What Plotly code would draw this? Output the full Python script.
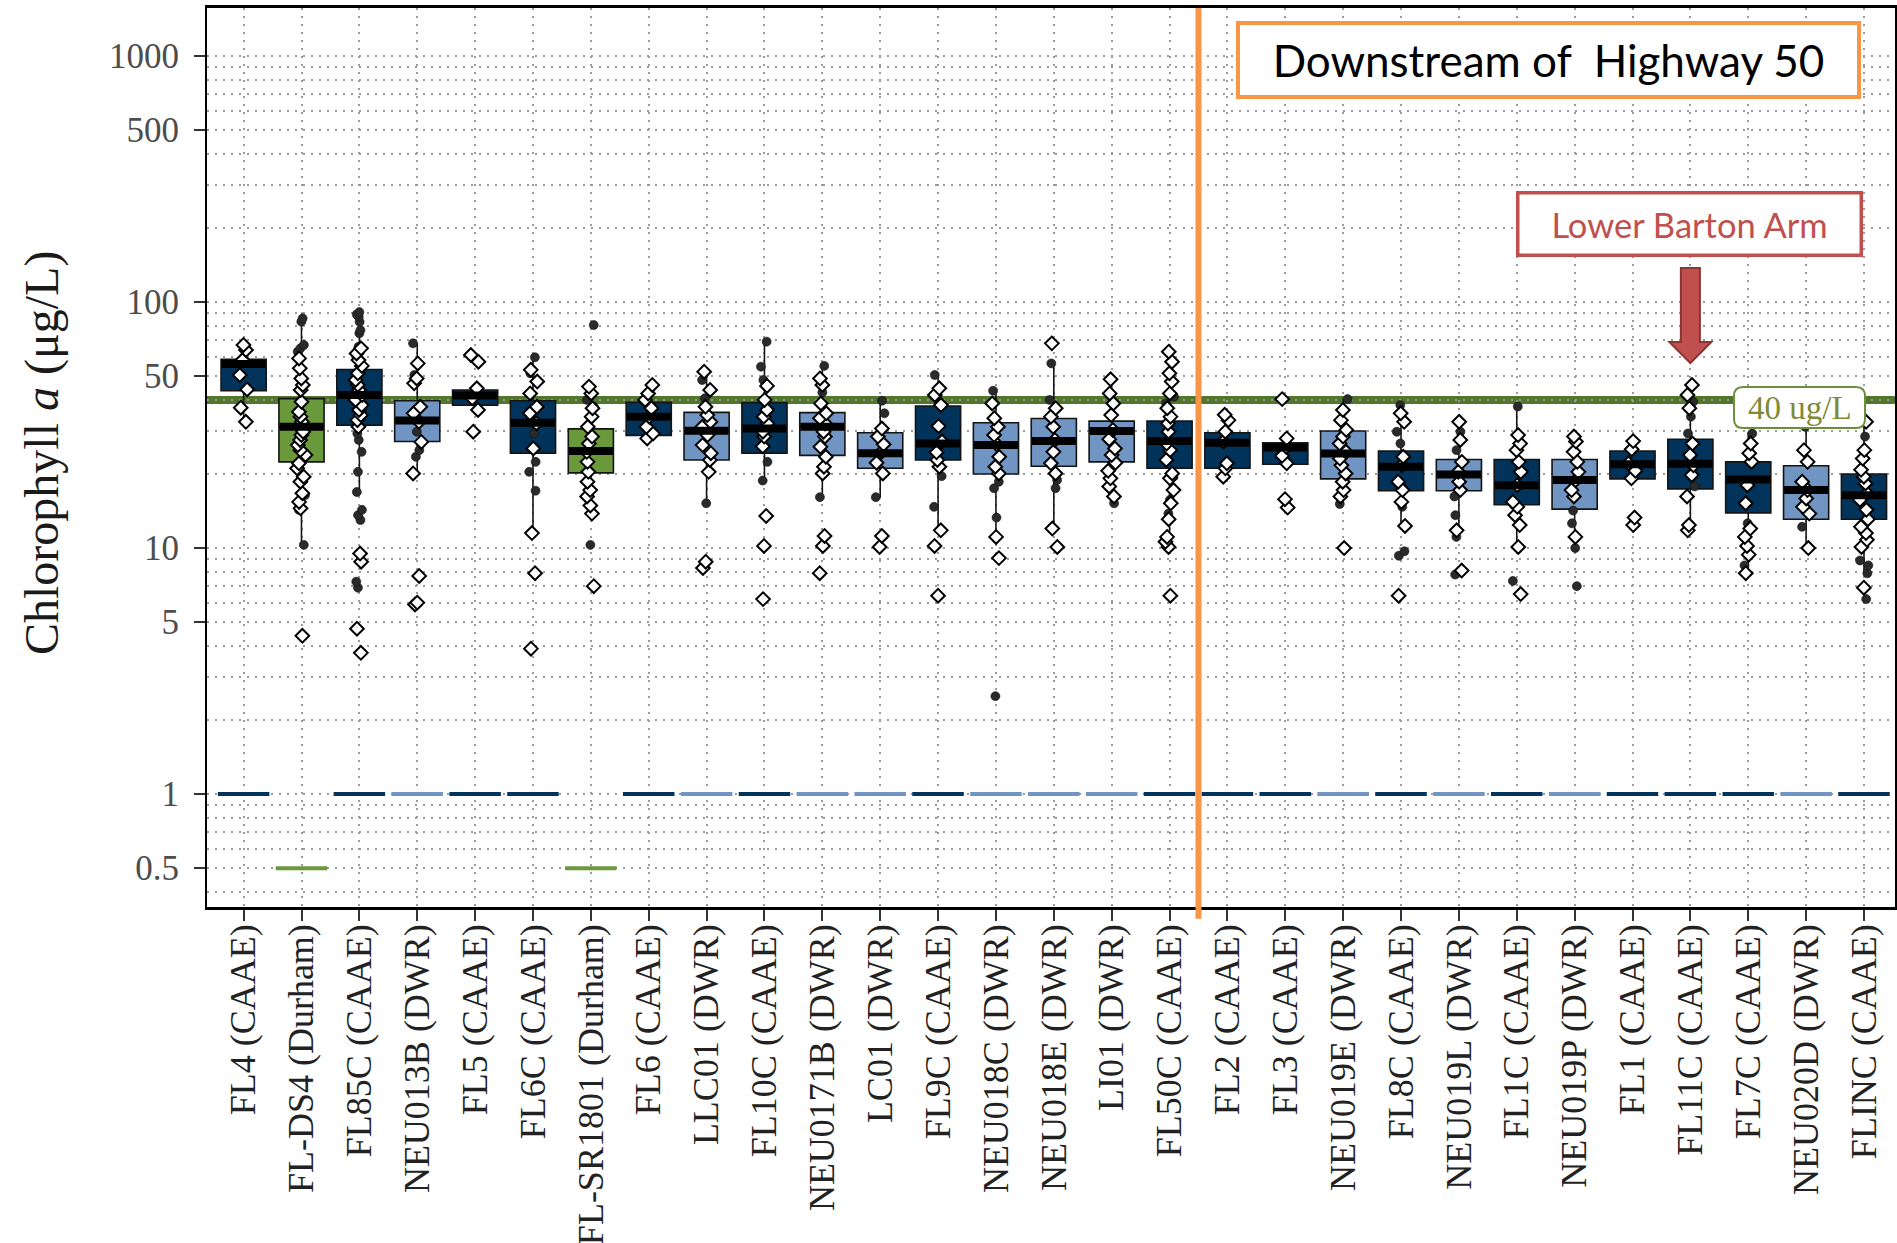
import plotly.graph_objects as go

# ---- stations (left to right) and sampling agency ----
stations = [
    "FL4 (CAAE)", "FL-DS4 (Durham)", "FL85C (CAAE)", "NEU013B (DWR)", "FL5 (CAAE)",
    "FL6C (CAAE)", "FL-SR1801 (Durham)", "FL6 (CAAE)", "LLC01 (DWR)", "FL10C (CAAE)",
    "NEU0171B (DWR)", "LC01 (DWR)", "FL9C (CAAE)", "NEU018C (DWR)", "NEU018E (DWR)",
    "LI01 (DWR)", "FL50C (CAAE)", "FL2 (CAAE)", "FL3 (CAAE)", "NEU019E (DWR)",
    "FL8C (CAAE)", "NEU019L (DWR)", "FL1C (CAAE)", "NEU019P (DWR)", "FL1 (CAAE)",
    "FL11C (CAAE)", "FL7C (CAAE)", "NEU020D (DWR)", "FLINC (CAAE)",
]
agency = [
    "CAAE", "Durham", "CAAE", "DWR", "CAAE", "CAAE", "Durham", "CAAE", "DWR", "CAAE",
    "DWR", "DWR", "CAAE", "DWR", "DWR", "DWR", "CAAE", "CAAE", "CAAE", "DWR",
    "CAAE", "DWR", "CAAE", "DWR", "CAAE", "CAAE", "CAAE", "DWR", "CAAE",
]

# ---- box statistics, chlorophyll a (ug/L) ----
q1 = [43.6, 22.4, 31.6, 27.1, 38.1, 24.3, 20.2, 28.7, 22.8, 24.3, 23.8, 21.1, 22.8, 20.0, 21.5,
      22.4, 21.1, 21.1, 21.9, 19.1, 17.1, 17.1, 15.0, 14.4, 19.1, 17.4, 13.9, 13.1, 13.1]
median = [56.0, 31.1, 41.9, 33.0, 41.7, 32.3, 24.8, 34.2, 30.0, 30.6, 31.1, 24.3, 26.6, 26.2, 27.2,
          29.9, 27.2, 26.8, 25.6, 24.2, 21.4, 19.9, 18.0, 18.9, 21.9, 22.0, 19.0, 17.2, 16.4]
q3 = [58.5, 40.5, 53.2, 39.7, 43.9, 39.7, 30.5, 39.1, 35.6, 39.0, 35.5, 29.4, 37.8, 32.3, 33.6,
      32.8, 32.8, 29.4, 26.8, 29.9, 24.8, 22.9, 22.9, 22.9, 24.8, 27.7, 22.4, 21.6, 20.0]
whisker_lo = [32.6, 10.3, 16.9, 20.1, 36.4, 11.5, 13.8, 27.9, 15.2, 18.8, 16.1, 16.1, 11.8, 11.1, 12.0,
              15.2, 10.1, 19.5, 21.9, 15.1, 12.3, 11.1, 10.1, 10.0, 19.1, 11.8, 7.9, 10.0, 7.9]
whisker_hi = [66.9, 85.8, 91.0, 67.9, 44.6, 59.6, 45.3, 46.0, 52.1, 69.0, 55.0, 39.7, 50.5, 43.6, 56.3,
              48.5, 62.8, 34.8, 27.9, 40.3, 38.1, 32.6, 37.6, 28.4, 27.2, 46.0, 29.2, 31.1, 37.0]

# ---- reporting limit drawn as a dash under each station ----
reporting_limit = [1, 0.5, 1, 1, 1, 1, 0.5, 1, 1, 1, 1, 1, 1, 1, 1,
                   1, 1, 1, 1, 1, 1, 1, 1, 1, 1, 1, 1, 1, 1]

# ---- individual samples: open diamonds and filled dots ----
open_samples = [
    [66.9, 63.8, 58.1, 50.5, 44.1, 37.2, 32.6],
    [59.0, 53.8, 48.9, 46.0, 43.9, 39.3, 35.8, 34.2, 32.6, 29.7, 28.8, 27.5, 26.2, 25.0, 23.9, 22.1,
     21.1, 19.5, 18.6, 16.7, 15.4, 14.5, 4.4],
    [64.8, 61.8, 58.1, 55.0, 51.3, 48.2, 46.0, 43.9, 41.9, 40.0, 38.1, 36.4, 34.7, 33.1, 31.1, 9.5,
     8.8, 4.7, 3.75],
    [56.3, 48.9, 46.7, 37.5, 35.3, 32.6, 27.0, 20.1, 7.7, 6.0, 5.9],
    [60.9, 57.2, 44.6, 40.6, 36.4, 29.7],
    [53.0, 47.5, 42.5, 37.5, 35.3, 32.1, 25.4, 11.5, 7.9, 3.9],
    [45.3, 42.5, 37.0, 34.2, 31.1, 28.4, 26.6, 24.6, 22.4, 20.4, 18.6, 17.2, 16.2, 14.9, 13.8, 7.0],
    [46.0, 42.5, 40.0, 37.0, 34.2, 31.1, 29.2, 27.9],
    [52.1, 43.9, 37.5, 34.7, 32.6, 31.1, 28.8, 26.2, 24.3, 22.8, 20.4, 8.8, 8.3],
    [45.6, 40.0, 36.4, 34.2, 32.1, 29.7, 28.4, 25.9, 13.5, 10.2, 6.2],
    [48.9, 46.0, 38.7, 35.3, 33.7, 32.1, 29.7, 28.4, 25.8, 23.5, 21.4, 20.1, 11.2, 10.2, 7.9],
    [30.6, 28.4, 26.4, 24.6, 22.2, 20.1, 11.2, 10.1],
    [44.6, 41.9, 38.1, 31.3, 27.1, 24.5, 22.8, 21.4, 11.8, 10.2, 6.4],
    [38.7, 33.7, 31.1, 28.8, 26.4, 23.5, 21.4, 20.1, 11.1, 9.1],
    [67.9, 37.0, 34.2, 31.1, 27.5, 24.6, 22.1, 20.1, 12.0, 10.1],
    [48.5, 42.5, 38.7, 34.7, 30.2, 27.7, 25.4, 23.9, 22.2, 20.6, 19.2, 17.8, 16.2],
    [62.8, 57.2, 51.3, 47.5, 42.5, 37.0, 34.2, 32.1, 29.7, 26.6, 25.0, 22.8, 20.1, 19.2, 17.2, 15.2,
     13.1, 11.1, 10.6, 10.1, 6.4],
    [34.8, 33.1, 29.7, 27.1, 22.1, 21.1, 19.5],
    [40.3, 27.9, 25.8, 23.7, 22.1, 15.8, 14.6],
    [36.4, 33.1, 30.2, 28.4, 26.6, 24.6, 23.1, 21.7, 20.1, 18.6, 17.2, 16.2, 10.0],
    [35.3, 32.6, 23.5, 21.7, 18.6, 17.2, 15.4, 12.3, 6.4],
    [32.6, 27.5, 22.4, 20.4, 18.6, 17.2, 11.8, 8.1],
    [28.8, 26.6, 25.0, 22.4, 20.4, 18.0, 15.4, 14.7, 13.6, 12.4, 10.1, 6.5],
    [28.4, 27.1, 24.6, 22.4, 20.4, 18.9, 17.2, 16.2, 11.1],
    [27.2, 25.2, 22.1, 20.6, 19.2, 13.3, 12.4],
    [46.0, 41.9, 37.0, 26.6, 23.9, 21.7, 19.8, 16.2, 12.4, 11.8],
    [26.6, 24.3, 22.4, 18.0, 15.2, 12.0, 11.1, 10.2, 9.4, 7.9],
    [25.0, 22.4, 18.6, 17.2, 15.9, 14.7, 13.8, 10.0],
    [32.6, 25.0, 23.1, 20.8, 19.5, 18.3, 16.7, 15.7, 14.3, 13.1, 12.2, 11.5, 10.8, 10.1, 6.9],
]
filled_samples = [
    [],
    [85.8, 83.2, 66.9, 64.8, 62.8, 16.4, 14.3, 10.3],
    [91.0, 89.0, 87.0, 83.0, 76.9, 74.6, 65.8, 29.2, 27.5, 24.6, 20.4, 16.9, 14.3, 13.6, 13.0, 7.3, 6.9],
    [67.9, 50.5, 29.7, 25.0, 23.5],
    [],
    [59.6, 51.3, 33.7, 29.2, 22.4, 20.4, 17.1],
    [80.6, 40.0, 37.5, 10.3],
    [],
    [48.2, 40.6, 15.2],
    [69.0, 54.6, 48.2, 22.4, 18.8],
    [55.0, 42.9, 16.1],
    [39.7, 35.3, 16.1],
    [50.5, 19.6, 14.7],
    [43.6, 18.6, 17.5, 13.3, 2.5],
    [56.3, 40.0, 18.9, 17.5],
    [15.2],
    [41.2, 38.7, 19.5, 15.7, 13.8],
    [],
    [],
    [40.3, 15.1],
    [38.1, 29.7, 26.6, 14.7, 9.7, 9.3],
    [29.7, 25.0, 16.2, 13.6, 11.1, 7.8],
    [37.6, 7.35],
    [14.2, 12.6, 10.0, 7.0],
    [],
    [39.3, 34.2, 29.2, 17.8],
    [29.2, 12.6, 8.5],
    [31.1, 12.2],
    [37.0, 28.4, 8.9, 8.5, 7.9, 6.2],
]

threshold = 40
threshold_label = "40 ug/L"
divider_after = "FL50C (CAAE)"
highlighted = "FL11C (CAAE)"

y_tick_values = [0.5, 1, 5, 10, 50, 100, 500, 1000]
y_minor_values = [0.4, 0.6, 0.7, 0.8, 0.9, 2, 3, 4, 6, 7, 8, 9, 20, 30, 40, 60, 70, 80, 90,
                  200, 300, 400, 600, 700, 800, 900]

# ---- styling ----
FILL = {"CAAE": "#01335b", "DWR": "#7095c2", "Durham": "#6a993b"}
GRID = "#9a9a9a"
GRID_DASH = "2px,6px"
SERIF = "Liberation Serif"
BOX_W = 0.78
LIMIT_HALF = 0.445

W, H = 1897, 1243
ML, MR, MT, MB = 207, 2, 8, 336
PLOT_W, PLOT_H = W - ML - MR, H - MT - MB
X_RANGE = [-0.633, 28.536]


def paper_x(px):
    return (px - ML) / PLOT_W


def paper_y(py):
    return (H - MB - py) / PLOT_H


idx = list(range(len(stations)))
fig = go.Figure()

# boxes with whiskers, one trace per agency
for ag in ["CAAE", "DWR", "Durham"]:
    sel = [i for i in idx if agency[i] == ag]
    fig.add_trace(go.Box(
        x=sel,
        q1=[q1[i] for i in sel],
        median=[median[i] for i in sel],
        q3=[q3[i] for i in sel],
        lowerfence=[whisker_lo[i] for i in sel],
        upperfence=[whisker_hi[i] for i in sel],
        width=BOX_W, whiskerwidth=0, boxpoints=False,
        fillcolor=FILL[ag], line=dict(color="#141414", width=1.6),
        hoverinfo="skip", showlegend=False,
    ))

# thick median bars
mx, my = [], []
for i in idx:
    mx += [i - BOX_W / 2 + 0.01, i + BOX_W / 2 - 0.01, None]
    my += [median[i], median[i], None]
fig.add_trace(go.Scatter(x=mx, y=my, mode="lines", line=dict(color="black", width=8),
                         hoverinfo="skip", showlegend=False))

# reporting-limit dashes
for ag in ["CAAE", "DWR", "Durham"]:
    dx, dy = [], []
    for i in idx:
        if agency[i] == ag:
            dx += [i - LIMIT_HALF, i + LIMIT_HALF, None]
            dy += [reporting_limit[i], reporting_limit[i], None]
    fig.add_trace(go.Scatter(x=dx, y=dy, mode="lines", line=dict(color=FILL[ag], width=4),
                             hoverinfo="skip", showlegend=False))


# sample points (box traces used only for their jittered point layout)
def sample_trace(samples, marker):
    xs, ys = [], []
    for i, vals in enumerate(samples):
        xs += [i] * len(vals)
        ys += vals
    return go.Box(
        x=xs, y=ys, boxpoints="all", jitter=0.2, pointpos=0, width=BOX_W,
        fillcolor="rgba(0,0,0,0)", line=dict(color="rgba(0,0,0,0)", width=0),
        whiskerwidth=0, marker=marker, hoverinfo="y", showlegend=False,
    )


fig.add_trace(sample_trace(filled_samples,
                           dict(symbol="circle", size=9, color="#2a2a2a",
                                line=dict(color="#111111", width=0.6))))
fig.add_trace(sample_trace(open_samples,
                           dict(symbol="diamond", size=10.5, color="white",
                                line=dict(color="black", width=2))))

# ---- reference lines and call-outs ----
divider_x = stations.index(divider_after) + 0.5
arrow_x = stations.index(highlighted)
px_per_unit = PLOT_W / (X_RANGE[1] - X_RANGE[0])
shaft = 9.5 / px_per_unit
head = 21.0 / px_per_unit
y_top, y_neck, y_tip = paper_y(268), paper_y(342), paper_y(363)
arrow_path = (
    f"M {arrow_x - shaft},{y_top} L {arrow_x + shaft},{y_top} L {arrow_x + shaft},{y_neck} "
    f"L {arrow_x + head},{y_neck} L {arrow_x},{y_tip} L {arrow_x - head},{y_neck} "
    f"L {arrow_x - shaft},{y_neck} Z"
)


def rounded_rect(x0, y0, x1, y1, r):
    ax0, ax1 = paper_x(x0), paper_x(x1)
    ay0, ay1 = paper_y(y1), paper_y(y0)
    rx, ry = r / PLOT_W, r / PLOT_H
    return (
        f"M {ax0 + rx},{ay0} L {ax1 - rx},{ay0} Q {ax1},{ay0} {ax1},{ay0 + ry} "
        f"L {ax1},{ay1 - ry} Q {ax1},{ay1} {ax1 - rx},{ay1} L {ax0 + rx},{ay1} "
        f"Q {ax0},{ay1} {ax0},{ay1 - ry} L {ax0},{ay0 + ry} Q {ax0},{ay0} {ax0 + rx},{ay0} Z"
    )


shapes = [
    dict(type="line", xref="paper", x0=0, x1=1, yref="y", y0=threshold, y1=threshold,
         line=dict(color="#52762b", width=8), layer="between"),
    dict(type="line", xref="x", x0=divider_x, x1=divider_x, yref="paper", y0=-0.013, y1=1.0,
         line=dict(color="#f79646", width=6)),
    dict(type="path", xref="x", yref="paper", path=arrow_path,
         fillcolor="#c0504d", line=dict(color="#8c3431", width=2)),
    dict(type="path", xref="paper", yref="paper", path=rounded_rect(1734, 387, 1865, 428, 9),
         fillcolor="white", line=dict(color="#6b8f3a", width=2)),
]

annotations = [
    dict(text="Downstream of \u00a0Highway 50", xref="paper", yref="paper",
         x=paper_x(1548.5), y=paper_y(60), xanchor="center", yanchor="middle",
         width=617, height=70, showarrow=False, bgcolor="white",
         bordercolor="#f79646", borderwidth=4, borderpad=0,
         font=dict(family="Lato", size=44, color="black")),
    dict(text="Lower Barton Arm", xref="paper", yref="paper",
         x=paper_x(1689.5), y=paper_y(224), xanchor="center", yanchor="middle",
         width=340, height=59, showarrow=False, bgcolor="white",
         bordercolor="#c0504d", borderwidth=3.5, borderpad=0,
         font=dict(family="Lato", size=34.5, color="#c0504d")),
    dict(text=threshold_label, xref="paper", yref="paper",
         x=paper_x(1799.5), y=paper_y(408), xanchor="center", yanchor="middle",
         showarrow=False, font=dict(family=SERIF, size=33, color="#7e8a36")),
    dict(text="Chlorophyll <i>a</i> (μg/L)", xref="paper", yref="paper",
         x=paper_x(42), y=paper_y(453), xanchor="center", yanchor="middle",
         textangle=-90, showarrow=False,
         font=dict(family=SERIF, size=48, color="#1a1a1a")),
]

fig.update_layout(
    width=W, height=H, autosize=False,
    margin=dict(l=ML, r=MR, t=MT, b=MB, pad=0),
    paper_bgcolor="white", plot_bgcolor="white",
    boxmode="overlay", showlegend=False,
    shapes=shapes, annotations=annotations,
    xaxis=dict(
        range=X_RANGE, tickmode="array", tickvals=idx, ticktext=stations, automargin=False,
        tickangle=-90, ticks="outside", ticklen=11, tickwidth=2, tickcolor="#333333",
        ticklabelstandoff=-11,
        showgrid=True, gridcolor=GRID, griddash=GRID_DASH, gridwidth=1.5,
        showline=True, linecolor="black", linewidth=2.5, mirror=True, zeroline=False,
        tickfont=dict(family=SERIF, size=36, color="#222222"),
    ),
    yaxis=dict(
        type="log", range=[-0.459, 3.195], tickmode="array", tickvals=y_tick_values,
        ticktext=[f"{v:g}" for v in y_tick_values], automargin=False,
        ticks="outside", ticklen=11, tickwidth=2, tickcolor="#333333",
        ticklabelstandoff=8,
        showgrid=True, gridcolor=GRID, griddash=GRID_DASH, gridwidth=1.5,
        minor=dict(tickmode="array", tickvals=y_minor_values, showgrid=True, gridcolor=GRID,
                   griddash=GRID_DASH, gridwidth=1.5, ticks=""),
        showline=True, linecolor="black", linewidth=2, mirror=True, zeroline=False,
        tickfont=dict(family=SERIF, size=35, color="#4d4d4d"),
    ),
)

fig.write_html("out.html")
